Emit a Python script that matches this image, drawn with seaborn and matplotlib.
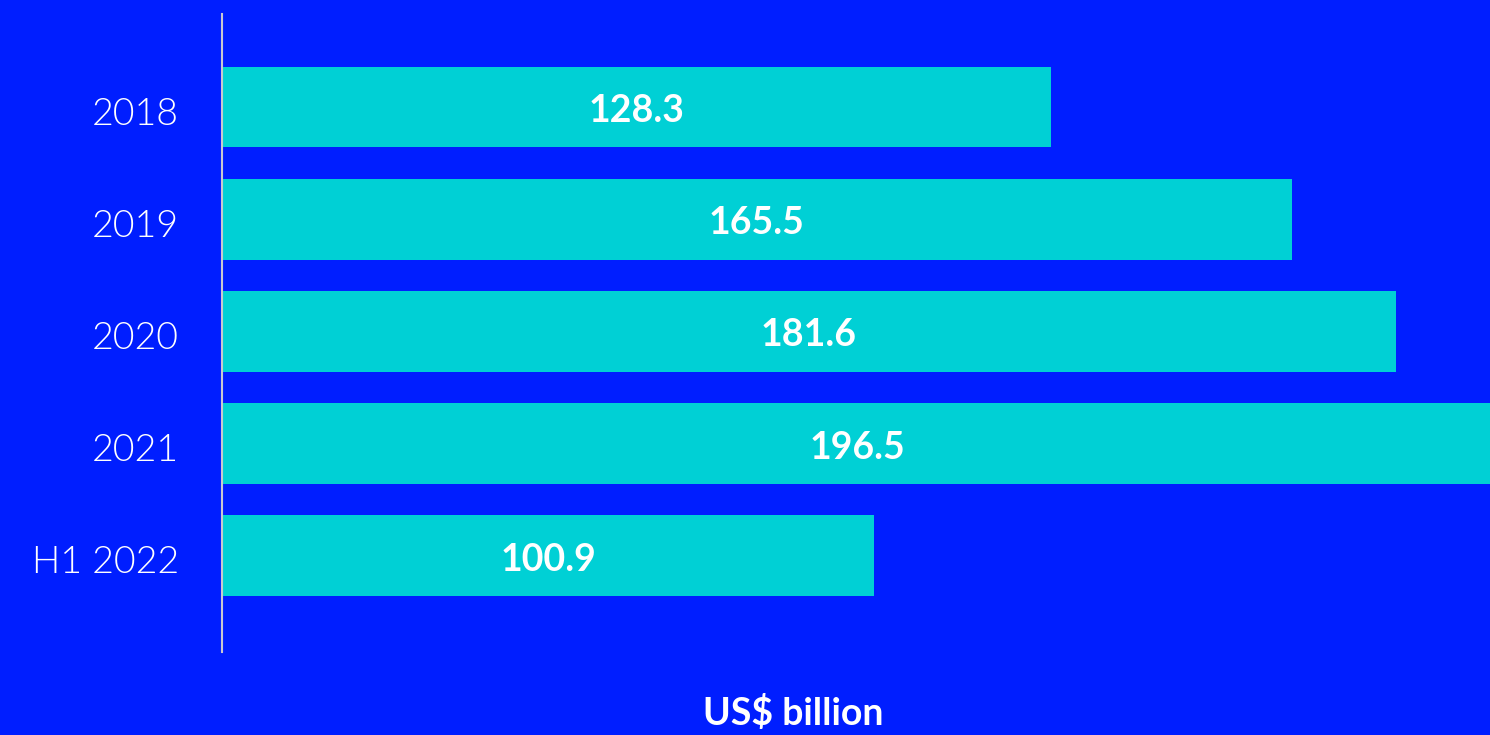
import matplotlib
matplotlib.use("Agg")
import matplotlib.pyplot as plt
import matplotlib.transforms as mtransforms
import seaborn as sns
import pandas as pd

periods = ["2018", "2019", "2020", "2021", "H1 2022"]
values = [128.3, 165.5, 181.6, 196.5, 100.9]

BG = "#001EFF"
BAR = "#00D0D5"
FG = "white"

sns.set_theme(style="white")
plt.rcParams["font.family"] = ["Lato", "DejaVu Sans"]

df = pd.DataFrame({"period": periods, "value": values})

fig = plt.figure(figsize=(14.9, 7.35), dpi=100, facecolor=BG)
ax = fig.add_axes([222 / 1490, 1 - 652 / 735, 1 - 222 / 1490, (652 - 14) / 735])
ax.set_facecolor(BG)

sns.barplot(data=df, x="value", y="period", orient="h", color=BAR,
            saturation=1, width=0.72, linewidth=0, edgecolor=BAR, ax=ax)

ax.set_xlim(0, 196.2)
ax.set_ylim(4.86, -0.83)

# nudge text a few points down so it sits visually centred in each band
shift = mtransforms.ScaledTranslation(0, -3 / 72, fig.dpi_scale_trans)

for i, v in enumerate(values):
    ax.text(v / 2, i, f"{v:.1f}", ha="center", va="center", color=FG,
            fontsize=27, fontweight="bold", transform=ax.transData + shift)

for side in ("top", "right", "bottom"):
    ax.spines[side].set_visible(False)
ax.spines["left"].set_color("#C8C8D0")
ax.spines["left"].set_linewidth(1.5)

ax.set_xticks([])
ax.tick_params(axis="y", length=0, pad=31, labelsize=27, labelcolor=FG)
for lbl in ax.get_yticklabels():
    lbl.set_fontweight(300)
    lbl.set_transform(lbl.get_transform() + shift)
ax.set_ylabel("")
ax.set_xlabel("US$ billion", color=FG, fontsize=27, fontweight="bold")
ax.xaxis.set_label_coords((793 - 222) / 1268, -(713 - 652) / 638, transform=ax.transAxes)
ax.xaxis.label.set_va("center")

fig.savefig("out.png", dpi=100, facecolor=BG)
